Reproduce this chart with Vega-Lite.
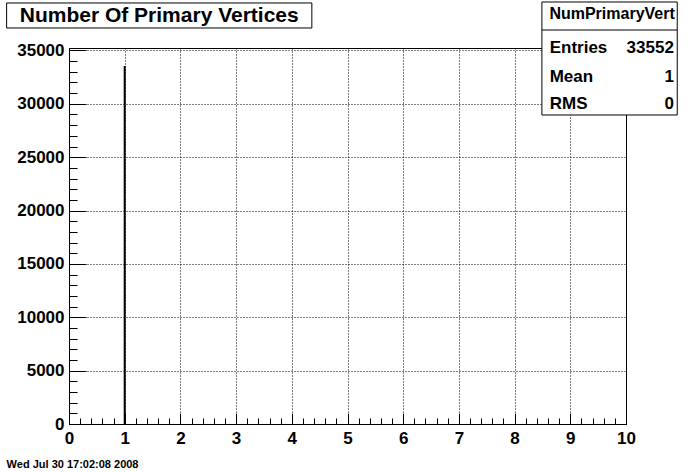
{
  "$schema": "https://vega.github.io/schema/vega-lite/v6.json",
  "width": 557,
  "height": 376,
  "autosize": {"type": "none"},
  "padding": {"left": 69, "top": 48, "right": 70, "bottom": 48},
  "background": "white",
  "config": {
    "view": {"stroke": "black", "strokeWidth": 1},
    "font": "Liberation Sans",
    "axis": {
      "labelFont": "Liberation Sans",
      "labelFontWeight": "bold",
      "labelColor": "black",
      "tickColor": "black",
      "domainColor": "black",
      "gridColor": "black",
      "gridDash": [1, 2],
      "gridOpacity": 1,
      "tickOpacity": 1,
      "domainOpacity": 1,
      "title": null
    }
  },
  "data": {"values": [{"NumPrimaryVert": 1, "count": 33552}]},
  "layer": [
    {
      "mark": {"type": "rule", "color": "black", "strokeWidth": 2},
      "encoding": {
        "x": {
          "field": "NumPrimaryVert", "type": "quantitative",
          "scale": {"domain": [0, 10], "nice": false, "zero": false},
          "axis": {
            "orient": "bottom", "values": [0,1,2,3,4,5,6,7,8,9,10],
            "tickSize": -11, "labelPadding": 17, "labelFontSize": 17,
            "grid": true, "labelFlush": false, "labelOverlap": false
          }
        },
        "y": {
          "field": "count", "type": "quantitative",
          "scale": {"domain": [0, 35230], "nice": false},
          "axis": {
            "orient": "left", "values": [0,5000,10000,15000,20000,25000,30000,35000],
            "tickSize": -17, "labelPadding": 22, "labelFontSize": 17,
            "grid": true, "format": "d", "labelFlush": false, "labelOverlap": false
          }
        },
        "y2": {"datum": 0}
      }
    },
    {
      "mark": {"type": "rule", "opacity": 0},
      "encoding": {
        "x": {
          "field": "NumPrimaryVert", "type": "quantitative",
          "axis": {
            "orient": "bottom",
            "values": [0,0.2,0.4,0.6,0.8,1,1.2,1.4,1.6,1.8,2,2.2,2.4,2.6,2.8,3,3.2,3.4,3.6,3.8,4,4.2,4.4,4.6,4.8,5,5.2,5.4,5.6,5.8,6,6.2,6.4,6.6,6.8,7,7.2,7.4,7.6,7.8,8,8.2,8.4,8.6,8.8,9,9.2,9.4,9.6,9.8,10],
            "tickSize": -6, "labels": false, "domain": false, "grid": false
          }
        },
        "y": {
          "field": "count", "type": "quantitative",
          "axis": {
            "orient": "left",
            "values": [0,1000,2000,3000,4000,5000,6000,7000,8000,9000,10000,11000,12000,13000,14000,15000,16000,17000,18000,19000,20000,21000,22000,23000,24000,25000,26000,27000,28000,29000,30000,31000,32000,33000,34000,35000],
            "tickSize": -8, "labels": false, "domain": false, "grid": false
          }
        }
      }
    },
    {
      "data": {"values": [{}]},
      "mark": {"type": "rect", "fill": "white", "stroke": "black", "strokeWidth": 1},
      "encoding": {
        "x": {"datum": -1.12, "type": "quantitative", "axis": null},
        "x2": {"datum": 4.36},
        "y": {"datum": 39448, "type": "quantitative", "axis": null},
        "y2": {"datum": 37105}
      }
    },
    {
      "data": {"values": [{}]},
      "mark": {"type": "text", "text": "Number Of Primary Vertices", "font": "Liberation Sans", "fontWeight": "bold", "fontSize": 21, "align": "center", "baseline": "alphabetic", "color": "black"},
      "encoding": {
        "x": {"datum": 1.62, "type": "quantitative", "axis": null},
        "y": {"datum": 37667, "type": "quantitative", "axis": null}
      }
    },
    {
      "data": {"values": [{}]},
      "mark": {"type": "rect", "fill": "white", "stroke": "black", "strokeWidth": 1},
      "encoding": {
        "x": {"datum": 8.49, "type": "quantitative", "axis": null},
        "x2": {"datum": 10.92},
        "y": {"datum": 39541, "type": "quantitative", "axis": null},
        "y2": {"datum": 28953}
      }
    },
    {
      "data": {"values": [{}]},
      "mark": {"type": "rule", "color": "black", "strokeWidth": 1},
      "encoding": {
        "x": {"datum": 8.49, "type": "quantitative", "axis": null},
        "x2": {"datum": 10.92},
        "y": {"datum": 36918, "type": "quantitative", "axis": null}
      }
    },
    {
      "data": {"values": [{}]},
      "mark": {"type": "text", "text": "NumPrimaryVert", "font": "Liberation Sans", "fontWeight": "bold", "fontSize": 16, "align": "center", "baseline": "alphabetic", "color": "black"},
      "encoding": {
        "x": {"datum": 9.75, "type": "quantitative", "axis": null},
        "y": {"datum": 37949, "type": "quantitative", "axis": null}
      }
    },
    {
      "data": {"values": [{"label": "Entries", "value": "33552", "ypos": 34763}, {"label": "Mean", "value": "1", "ypos": 32045}, {"label": "RMS", "value": "0", "ypos": 29516}]},
      "layer": [
        {
          "mark": {"type": "text", "font": "Liberation Sans", "fontWeight": "bold", "fontSize": 17, "align": "left", "baseline": "alphabetic", "color": "black"},
          "encoding": {
            "x": {"datum": 8.63, "type": "quantitative", "axis": null},
            "y": {"field": "ypos", "type": "quantitative", "axis": null},
            "text": {"field": "label"}
          }
        },
        {
          "mark": {"type": "text", "font": "Liberation Sans", "fontWeight": "bold", "fontSize": 17, "align": "right", "baseline": "alphabetic", "color": "black"},
          "encoding": {
            "x": {"datum": 10.86, "type": "quantitative", "axis": null},
            "y": {"field": "ypos", "type": "quantitative", "axis": null},
            "text": {"field": "value"}
          }
        }
      ]
    },
    {
      "data": {"values": [{}]},
      "mark": {"type": "text", "text": "Wed Jul 30 17:02:08 2008", "font": "Liberation Sans", "fontWeight": "bold", "fontSize": 11, "align": "left", "baseline": "alphabetic", "color": "black"},
      "encoding": {
        "x": {"datum": -1.12, "type": "quantitative", "axis": null},
        "y": {"datum": -4076, "type": "quantitative", "axis": null}
      }
    }
  ],
  "resolve": {"axis": {"x": "independent", "y": "independent"}}
}
